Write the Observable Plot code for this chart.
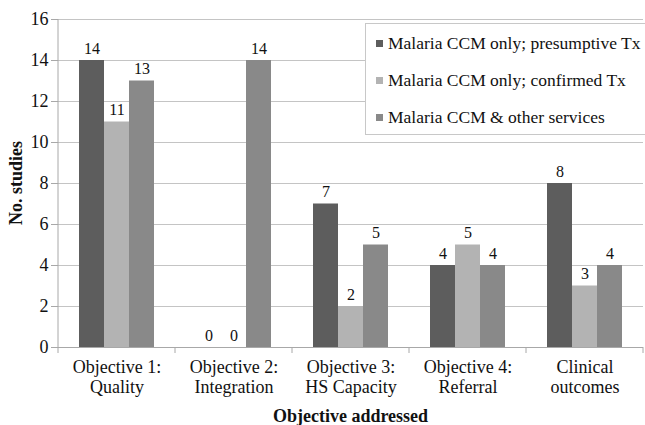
<!DOCTYPE html>
<html>
<head>
<meta charset="utf-8">
<script src="https://cdn.jsdelivr.net/npm/d3@7"></script>
<script src="https://cdn.jsdelivr.net/npm/@observablehq/plot@0.6"></script>
<style>
  html, body { margin: 0; padding: 0; background: #fff; overflow: hidden; }
  #wrap { position: relative; width: 645px; height: 425px; }
  #legend {
    position: absolute; left: 365px; top: 23px; width: 300px; height: 112px;
    background: #fff; border: 1px solid #c8c8c8; box-sizing: border-box;
    font-family: "Liberation Serif", "Times New Roman", serif; font-size: 17.5px; color: #111;
    padding-top: 1px;
  }
  #legend .row { height: 37px; display: flex; align-items: center; white-space: nowrap; }
  #legend .sw { width: 7px; height: 7px; margin-left: 10px; margin-right: 5px; flex: none; }
</style>
</head>
<body>
<div id="wrap"></div>
<script>
const categories = ["Objective 1:\nQuality", "Objective 2:\nIntegration", "Objective 3:\nHS Capacity", "Objective 4:\nReferral", "Clinical\noutcomes"];
const seriesNames = ["Malaria CCM only; presumptive Tx", "Malaria CCM only; confirmed Tx", "Malaria CCM & other services"];
const presumptive = [14, 0, 7, 4, 8];
const confirmed = [11, 0, 2, 5, 3];
const otherServices = [13, 14, 5, 4, 4];
const seriesColors = ["#5d5d5d", "#b3b3b3", "#898989"];
const yTicks = [0, 2, 4, 6, 8, 10, 12, 14, 16];
const yTitle = "No. studies";
const xTitle = "Objective addressed";

const seriesValues = [presumptive, confirmed, otherServices];
const data = [];
categories.forEach((c, i) => {
  seriesNames.forEach((s, j) => data.push({category: c, series: s, value: seriesValues[j][i]}));
});

const chart = Plot.plot({
  width: 645,
  height: 425,
  marginLeft: 56,
  marginRight: 0,
  marginTop: 19,
  marginBottom: 78,
  style: {fontFamily: "'Liberation Serif', 'Times New Roman', serif", fontSize: "18px", color: "#111", background: "#fff"},
  fx: {domain: categories, paddingInner: 0, paddingOuter: 0, label: null, axis: null},
  x: {domain: seriesNames, paddingInner: 0, paddingOuter: 0.765, axis: null},
  y: {domain: [0, 16], ticks: yTicks, label: null},
  color: {domain: seriesNames, range: seriesColors},
  marks: [
    Plot.gridY(yTicks, {stroke: "#c4c4c4", strokeOpacity: 1}),
    Plot.ruleY([0], {stroke: "#a8a8a8"}),
    Plot.barY(data, {fx: "category", x: "series", y: "value", fill: "series"}),
    Plot.text(data, {fx: "category", x: "series", y: "value", text: d => String(d.value), dy: -12, fontSize: 16, fill: "#111"}),
    Plot.axisY(yTicks, {tickSize: 7, tickPadding: 3, stroke: "#a8a8a8", fill: "#111", label: null, fontSize: 18}),
    Plot.axisFx({anchor: "bottom", tickSize: 0, tickPadding: 11, label: null, lineHeight: 1.12, fontSize: 18, fill: "#111"})
  ]
});

document.getElementById("wrap").appendChild(chart);

// axis line, category boundary ticks and axis titles, placed from the plot's own scales
const svg = d3.select(chart);
const fx = chart.scale("fx");
const ys = chart.scale("y");
const yAt = v => ys.apply ? ys.apply(v) : ys.range[0] + (v - ys.domain[0]) / (ys.domain[1] - ys.domain[0]) * (ys.range[1] - ys.range[0]);
const fxAt = c => fx.apply ? fx.apply(c) : fx.range[0] + fx.domain.indexOf(c) * fx.step;
const bw = fx.bandwidth != null ? fx.bandwidth : fx.step;
const bounds = categories.map(fxAt).concat([fxAt(categories[categories.length - 1]) + bw]);
const y0 = yAt(0), yTop = yAt(16);
svg.append("line").attr("x1", bounds[0]).attr("x2", bounds[0]).attr("y1", yTop).attr("y2", y0)
  .attr("stroke", "#a8a8a8");
bounds.forEach(b => {
  svg.append("line").attr("x1", b).attr("x2", b).attr("y1", y0).attr("y2", y0 + 6).attr("stroke", "#a8a8a8");
});
svg.append("text")
  .attr("transform", `translate(18,${(yTop + y0) / 2}) rotate(-90)`)
  .attr("text-anchor", "middle").attr("dominant-baseline", "middle")
  .attr("font-weight", "bold").attr("font-size", 18).attr("fill", "#111")
  .text(yTitle);
svg.append("text")
  .attr("x", (bounds[0] + bounds[bounds.length - 1]) / 2).attr("y", 418)
  .attr("text-anchor", "middle").attr("dominant-baseline", "middle")
  .attr("font-weight", "bold").attr("font-size", 18).attr("fill", "#111")
  .text(xTitle);

// legend
const legend = document.createElement("div");
legend.id = "legend";
seriesNames.forEach((s, j) => {
  const row = document.createElement("div");
  row.className = "row";
  const sw = document.createElement("span");
  sw.className = "sw";
  sw.style.background = seriesColors[j];
  const t = document.createElement("span");
  t.textContent = s;
  row.appendChild(sw);
  row.appendChild(t);
  legend.appendChild(row);
});
document.getElementById("wrap").appendChild(legend);
</script>
</body>
</html>
